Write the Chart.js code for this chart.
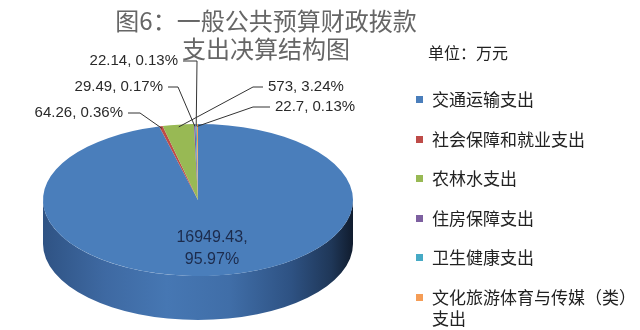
<!DOCTYPE html>
<html>
<head>
<meta charset="utf-8">
<script src="https://cdn.jsdelivr.net/npm/chart.js@4/dist/chart.umd.min.js"></script>
<style>
  body { margin: 0; background: #fff; }
  #wrap { position: relative; width: 640px; height: 330px; overflow: hidden; background: #fff; }
  #pie { position: absolute; left: 0; top: 0; }
  .title { position: absolute; left: 96px; width: 340px; text-align: center; white-space: nowrap; font: 24px "Noto Sans CJK SC", sans-serif; color: #666; line-height: 28px; }
  #unit { position: absolute; left: 428px; top: 40px; font: 16px "Noto Sans CJK SC", sans-serif; color: #222; }
  #legend { position: absolute; left: 415px; top: 88px; font: 17px "Noto Sans CJK SC", sans-serif; color: #222; }
  .item { position: absolute; left: 0; white-space: nowrap; line-height: 21px; }
  .sw { position: absolute; left: 1px; top: 8px; width: 7px; height: 7px; }
  .txt { position: absolute; left: 17px; top: 0; }
</style>
</head>
<body>
<div id="wrap">
  <canvas id="pie" width="640" height="330"></canvas>
  <div class="title" style="top:6px">图6：一般公共预算财政拨款</div>
  <div class="title" style="top:34px">支出决算结构图</div>
  <div id="unit">单位：万元</div>
  <div id="legend"></div>
</div>
<script>
const categories = ['交通运输支出', '社会保障和就业支出', '农林水支出', '住房保障支出', '卫生健康支出', '文化旅游体育与传媒（类）支出'];
const amounts = [16949.43, 64.26, 573, 29.49, 22.14, 22.7];
const colors = ['#4a7ebb', '#be4b48', '#98b954', '#7d60a0', '#46aac5', '#f59d56'];

const total = amounts.reduce((a, b) => a + b, 0);
const percents = amounts.map((v) => (v / total * 100).toFixed(2) + '%');

// pie geometry on screen (top face ellipse + side depth)
const face = { cx: 198, cy: 200, rx: 155, ry: 76, depth: 44 };

// where each data label sits, and the elbow of its leader line
const labelSpots = [
  { x: 212, y: 238, align: 'center' },
  { x: 123, y: 113, align: 'right', elbow: 140 },
  { x: 268, y: 87, align: 'left', elbow: 253 },
  { x: 163, y: 87, align: 'right', elbow: 178 },
  { x: 178, y: 61, align: 'right', elbow: 197 },
  { x: 275, y: 107, align: 'left', elbow: 253 }
];

// legend
const legend = document.getElementById('legend');
categories.forEach((name, i) => {
  const row = document.createElement('div');
  row.className = 'item';
  row.style.top = (i * 39.5) + 'px';
  const label = name.startsWith('文化') ? '文化旅游体育与传媒（类）<br>支出' : name;
  row.innerHTML = '<span class="sw" style="background:' + colors[i] + '"></span><span class="txt">' + label + '</span>';
  legend.appendChild(row);
});

const tiltPlugin = {
  id: 'tilt',
  beforeDatasetsDraw(chart) {
    const ctx = chart.ctx;
    const arc = chart.getDatasetMeta(0).data[0];
    const { x, y } = arc.getProps(['x', 'y'], true);
    // side wall
    ctx.save();
    const g = ctx.createLinearGradient(face.cx - face.rx, 0, face.cx + face.rx, 0);
    g.addColorStop(0, '#2f5384');
    g.addColorStop(0.2, '#3e69a2');
    g.addColorStop(0.4, '#4677b3');
    g.addColorStop(0.6, '#406ea8');
    g.addColorStop(0.8, '#2e5283');
    g.addColorStop(0.93, '#1f3758');
    g.addColorStop(1, '#101c2e');
    ctx.beginPath();
    ctx.moveTo(face.cx + face.rx, face.cy);
    ctx.ellipse(face.cx, face.cy, face.rx, face.ry, 0, 0, Math.PI);
    ctx.lineTo(face.cx - face.rx, face.cy + face.depth);
    ctx.ellipse(face.cx, face.cy + face.depth, face.rx, face.ry, 0, Math.PI, 0, true);
    ctx.closePath();
    ctx.fillStyle = g;
    ctx.fill();
    ctx.restore();
    // squash the pie into the top face
    ctx.save();
    ctx.translate(face.cx, face.cy);
    ctx.scale(face.rx / arc.outerRadius, face.ry / arc.outerRadius);
    ctx.translate(-x, -y);
  },
  afterDatasetsDraw(chart) {
    const ctx = chart.ctx;
    ctx.restore();
    const meta = chart.getDatasetMeta(0);
    ctx.save();
    ctx.textBaseline = 'middle';
    meta.data.forEach((el, i) => {
      const p = el.getProps(['startAngle', 'endAngle'], true);
      const spot = labelSpots[i];
      if (spot.align === 'center') {
        ctx.fillStyle = '#1c2b4c';
        ctx.font = '16px "Liberation Sans", Arial, sans-serif';
        ctx.textAlign = 'center';
        ctx.fillText(amounts[i] + ',', spot.x, spot.y);
        ctx.fillText(percents[i], spot.x, spot.y + 22);
        return;
      }
      const mid = (p.startAngle + p.endAngle) / 2;
      const ax = face.cx + face.rx * 0.97 * Math.cos(mid);
      const ay = face.cy + face.ry * 0.97 * Math.sin(mid);
      const startX = spot.align === 'right' ? spot.x + 5 : spot.x - 5;
      ctx.strokeStyle = '#333';
      ctx.lineWidth = 1;
      ctx.beginPath();
      ctx.moveTo(startX, spot.y);
      ctx.lineTo(spot.elbow, spot.y);
      ctx.lineTo(ax, ay);
      ctx.stroke();
      ctx.fillStyle = '#2a2a2a';
      ctx.font = '15px "Liberation Sans", Arial, sans-serif';
      ctx.textAlign = spot.align;
      ctx.fillText(amounts[i] + ', ' + percents[i], spot.x, spot.y);
    });
    ctx.restore();
  }
};

new Chart(document.getElementById('pie'), {
  type: 'pie',
  data: {
    labels: categories,
    datasets: [{ data: amounts, backgroundColor: colors, borderWidth: 0 }]
  },
  options: {
    responsive: false,
    animation: false,
    layout: { padding: { left: 43, right: 287, top: 10, bottom: 10 } },
    plugins: { legend: { display: false }, tooltip: { enabled: false }, title: { display: false } }
  },
  plugins: [tiltPlugin]
});
</script>
</body>
</html>
